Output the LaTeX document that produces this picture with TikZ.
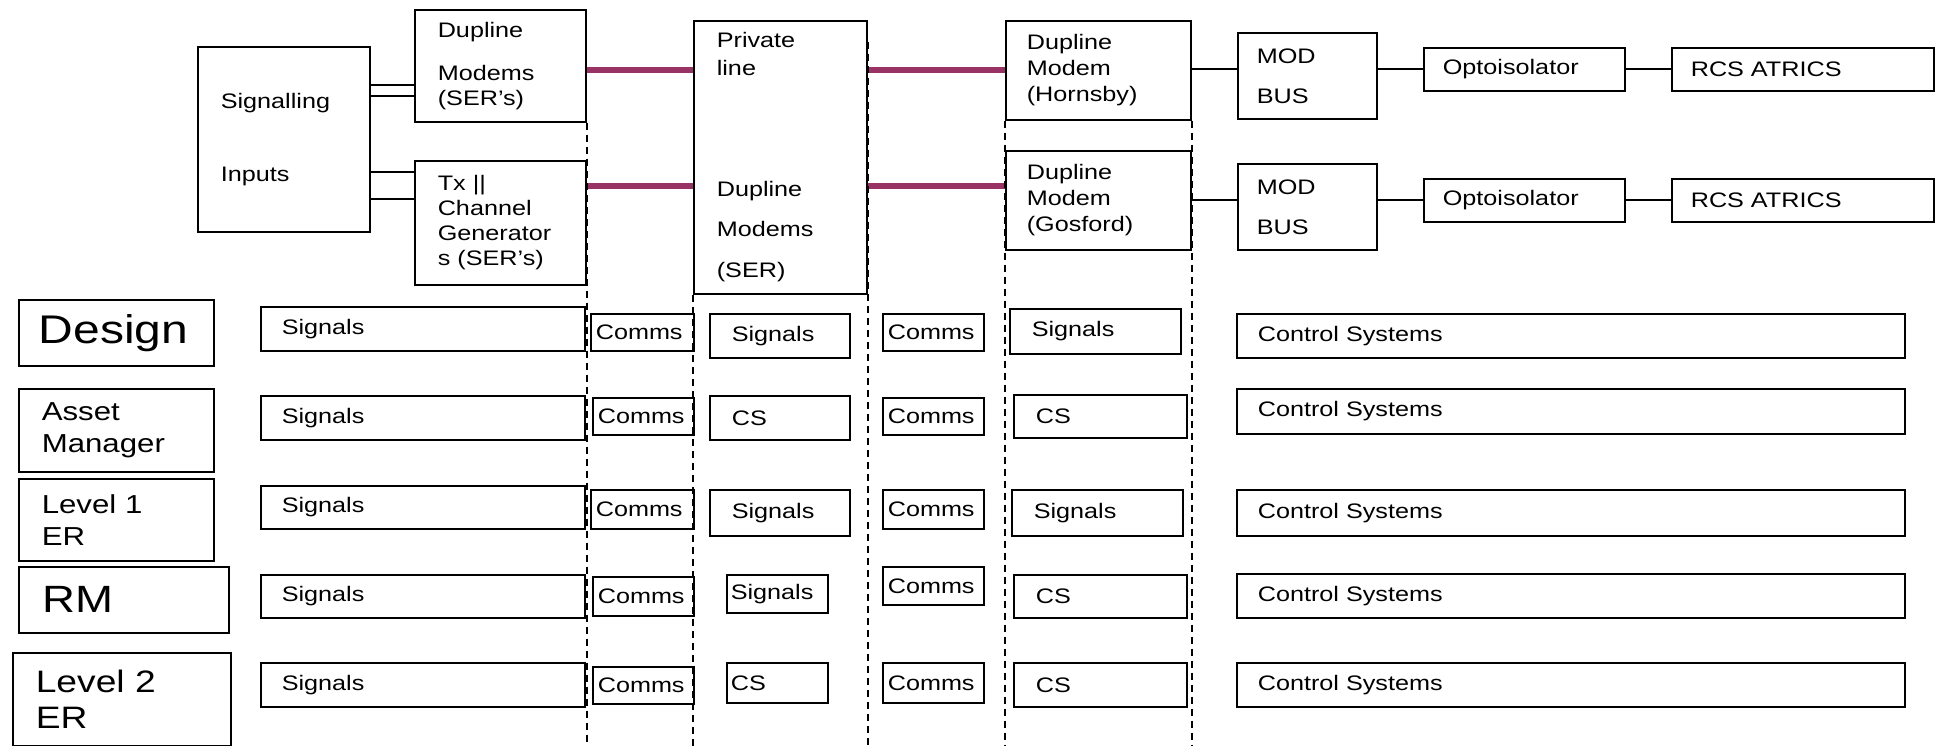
\documentclass[tikz,border=0pt]{standalone}
\usepackage{fontspec}
\setmainfont{Liberation Sans}[FakeStretch=1.2]
\definecolor{lineplum}{RGB}{153,51,102}
\hyphenpenalty=10000
\begin{document}
\begin{tikzpicture}[x=1pt,y=-1pt,line width=1.6pt,
    cell/.style n args={3}{draw, anchor=north west, align=left,
      minimum width=#1pt, minimum height=#2pt, inner ysep=0pt,
      inner xsep=#3pt, text width=#1pt-2*#3pt,
      font=\fontsize{21}{25}\selectfont},
    link/.style={draw=lineplum, line width=6pt},
    divider/.style={line width=2pt, dash pattern=on 7pt off 5pt}]
  \useasboundingbox (0,0) rectangle (1939,746);

  % inputs and the two modem chains
  \node[cell={172}{185}{23}] (sigin) at (197,46) {Signalling\\[48pt]Inputs};
  \node[cell={171}{112}{23}] (modems) at (414,9) {Dupline\\[18pt]Modems\\(SER's)};
  \node[cell={171}{124}{23}] (txgen) at (414,160) {Tx ||\\Channel\\Generator\\s (SER's)};
  \node[cell={173}{273}{23}] (privline) at (693,20)
    {Private\\[3pt]line\\[96pt]Dupline\\[15pt]Modems\\[16pt](SER)};
  \node[cell={185}{99}{21}] (hornsby) at (1005,20) {Dupline\\[1pt]Modem\\[1pt](Hornsby)};
  \node[cell={185}{99}{21}] (gosford) at (1005,150) {Dupline\\[1pt]Modem\\[1pt](Gosford)};
  \node[cell={139}{86}{19}] (modbusA) at (1237,32) {MOD\\[15pt]BUS};
  \node[cell={139}{86}{19}] (modbusB) at (1237,163) {MOD\\[15pt]BUS};
  \node[cell={201}{43}{19}] (optoA) at (1423,47) {Optoisolator};
  \node[cell={201}{43}{19}] (optoB) at (1423,178) {Optoisolator};
  \node[cell={262}{43}{19}] (rcsA) at (1671,47) {RCS ATRICS};
  \node[cell={262}{43}{19}] (rcsB) at (1671,178) {RCS ATRICS};

  \draw (sigin.east |- 0,85) -- (modems.west |- 0,85);
  \draw (sigin.east |- 0,96) -- (modems.west |- 0,96);
  \draw (sigin.east |- 0,172) -- (txgen.west |- 0,172);
  \draw (sigin.east |- 0,199) -- (txgen.west |- 0,199);

  \draw[link] (modems.east |- 0,70) -- (privline.west |- 0,70);
  \draw[link] (txgen.east |- 0,186) -- (privline.west |- 0,186);
  \draw[link] (privline.east |- 0,70) -- (hornsby.west |- 0,70);
  \draw[link] (privline.east |- 0,186) -- (gosford.west |- 0,186);

  \draw (hornsby.east |- optoA) -- (modbusA.west |- optoA);
  \draw (modbusA.east |- optoA) -- (optoA.west);
  \draw (optoA.east) -- (rcsA.west);
  \draw (gosford.east |- optoB) -- (modbusB.west |- optoB);
  \draw (modbusB.east |- optoB) -- (optoB.west);
  \draw (optoB.east) -- (rcsB.west);

  % column dividers
  \draw[divider] (modems.south east) -- (modems.south east |- 0,746);
  \draw[divider] (privline.south west) -- (privline.south west |- 0,746);
  \draw[divider] ([yshift=-22pt]privline.north east) -- (privline.north east |- 0,746);
  \draw[divider] (hornsby.south west) -- (hornsby.south west |- 0,746);
  \draw[divider] (hornsby.south east) -- (hornsby.south east |- 0,746);

  % responsibility rows
  \node[cell={195}{66}{20}, font=\fontsize{40}{48}\selectfont] (design) at (18,299) {Design};
  \node[cell={195}{83}{23}, font=\fontsize{26}{32}\selectfont] (asset) at (18,388) {Asset\\Manager};
  \node[cell={195}{82}{23}, font=\fontsize{26}{32}\selectfont] (levelone) at (18,478) {Level 1\\ER};
  \node[cell={210}{66}{24}, font=\fontsize{38}{46}\selectfont] (rm) at (18,566) {RM};
  \node[cell={218}{93}{23}, font=\fontsize{31}{36}\selectfont] (leveltwo) at (12,652) {Level 2\\ER};

  \node[cell={324}{44}{21}] (sigA) at (260,306) {Signals};
  \node[cell={324}{44}{21}] (sigB) at (260,395) {Signals};
  \node[cell={324}{43}{21}] (sigC) at (260,485) {Signals};
  \node[cell={324}{43}{21}] (sigD) at (260,574) {Signals};
  \node[cell={324}{44}{21}] (sigE) at (260,662) {Signals};

  \node[cell={103}{37}{5}] (commsA) at (590,313) {Comms};
  \node[cell={101}{37}{5}] (commsB) at (592,397) {Comms};
  \node[cell={103}{39}{5}] (commsC) at (590,489) {Comms};
  \node[cell={101}{39}{5}] (commsD) at (592,576) {Comms};
  \node[cell={101}{37}{5}] (commsE) at (592,666) {Comms};

  \node[cell={140}{44}{22}] (midA) at (709,313) {Signals};
  \node[cell={140}{44}{22}] (midB) at (709,395) {CS};
  \node[cell={140}{46}{22}] (midC) at (709,489) {Signals};
  \node[cell={101}{38}{4}] (midD) at (726,574) {Signals};
  \node[cell={101}{40}{4}] (midE) at (726,662) {CS};

  \node[cell={101}{37}{5}] (linkA) at (882,313) {Comms};
  \node[cell={101}{37}{5}] (linkB) at (882,397) {Comms};
  \node[cell={101}{39}{5}] (linkC) at (882,489) {Comms};
  \node[cell={101}{38}{5}] (linkD) at (882,566) {Comms};
  \node[cell={101}{40}{5}] (linkE) at (882,662) {Comms};

  \node[cell={171}{45}{22}] (siteA) at (1009,308) {Signals};
  \node[cell={173}{43}{22}] (siteB) at (1013,394) {CS};
  \node[cell={171}{46}{22}] (siteC) at (1011,489) {Signals};
  \node[cell={173}{43}{22}] (siteD) at (1013,574) {CS};
  \node[cell={173}{44}{22}] (siteE) at (1013,662) {CS};

  \node[cell={668}{44}{21}] (ctrlA) at (1236,313) {Control Systems};
  \node[cell={668}{45}{21}] (ctrlB) at (1236,388) {Control Systems};
  \node[cell={668}{46}{21}] (ctrlC) at (1236,489) {Control Systems};
  \node[cell={668}{44}{21}] (ctrlD) at (1236,573) {Control Systems};
  \node[cell={668}{44}{21}] (ctrlE) at (1236,662) {Control Systems};
\end{tikzpicture}
\end{document}
